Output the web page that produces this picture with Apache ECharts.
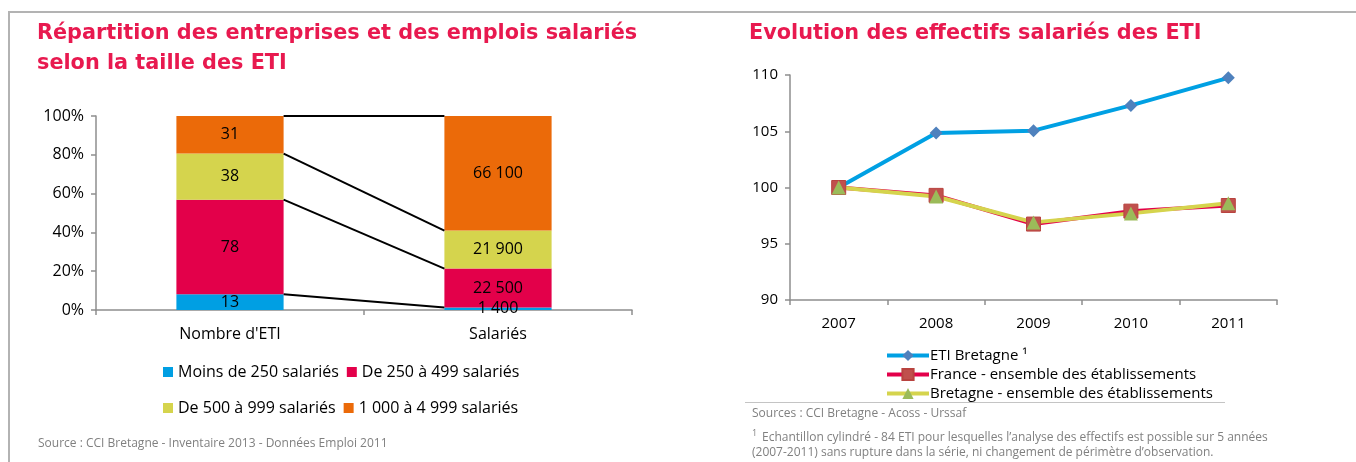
<!DOCTYPE html>
<html>
<head>
<meta charset="utf-8">
<script src="https://cdn.jsdelivr.net/npm/echarts@6/dist/echarts.min.js"></script>
<style>
html, body { margin: 0; padding: 0; background: #fff; }
#main { width: 1356px; height: 462px; }
</style>
</head>
<body>
<div id="main"></div>
<script>
// --- données (graphique de gauche) ---
var categories = ["Nombre d'ETI", "Salariés"];
var sizeNames = ['Moins de 250 salariés', 'De 250 à 499 salariés', 'De 500 à 999 salariés', '1 000 à 4 999 salariés'];
var moins250 = [13, 1400];
var de250a499 = [78, 22500];
var de500a999 = [38, 21900];
var de1000a4999 = [31, 66100];
var pctTicks = [0, 20, 40, 60, 80, 100];

// --- données (graphique de droite) ---
var years = ['2007', '2008', '2009', '2010', '2011'];
var etiBretagne = [100, 104.85, 105.05, 107.3, 109.75];
var franceEnsemble = [100, 99.3, 96.75, 97.9, 98.4];
var bretagneEnsemble = [100, 99.2, 96.9, 97.7, 98.6];
var indexTicks = [90, 95, 100, 105, 110];

var sizeColors = ['#009fe3', '#e3004a', '#d5d44d', '#eb6a09'];
var textFont = 'Open Sans';
var titleColor = '#e8194f';

/**
 * parts en % par colonne
 */
var groups = [moins250, de250a499, de500a999, de1000a4999];
var totals = categories.map(function (c, i) {
    var s = 0;
    for (var k = 0; k < groups.length; k++) s += groups[k][i];
    return s;
});
var shares = groups.map(function (g) {
    return g.map(function (v, i) { return v / totals[i] * 100; });
});
// limites cumulées pour les traits de liaison
var connData = [];
var cumL = 0, cumR = 0;
for (var k = 0; k < shares.length; k++) {
    cumL += shares[k][0];
    cumR += shares[k][1];
    connData.push([0, Math.min(cumL, 100), Math.min(cumR, 100)]);
}

function fmtNum(v) {
    return String(v).replace(/\B(?=(\d{3})+(?!\d))/g, ' ');
}

var barSeries = groups.map(function (g, k) {
    return {
        name: sizeNames[k],
        type: 'bar',
        stack: 'taille',
        xAxisIndex: 0,
        yAxisIndex: 0,
        barWidth: '40%',
        data: shares[k],
        itemStyle: { color: sizeColors[k] },
        label: {
            show: true,
            position: 'inside',
            color: '#000',
            fontFamily: textFont,
            fontSize: 16,
            formatter: function (p) { return fmtNum(g[p.dataIndex]); }
        }
    };
});

var axisGray = '#8e8e8e';

var option = {
    animation: false,
    textStyle: { fontFamily: textFont },
    grid: [
        { left: 96, top: 116, width: 536, height: 194 },
        { left: 790, top: 75, width: 487, height: 225 }
    ],
    xAxis: [
        {
            gridIndex: 0,
            type: 'category',
            data: categories,
            axisLine: { lineStyle: { color: axisGray, width: 1.5 } },
            axisTick: { show: true, length: 5, lineStyle: { color: axisGray, width: 1.5 } },
            axisLabel: { color: '#000', fontSize: 16, margin: 16 }
        },
        {
            gridIndex: 1,
            type: 'category',
            data: years,
            axisLine: { lineStyle: { color: axisGray, width: 1.5 } },
            axisTick: { show: true, length: 5, lineStyle: { color: axisGray, width: 1.5 } },
            axisLabel: { color: '#000', fontSize: 15, margin: 16 }
        }
    ],
    yAxis: [
        {
            gridIndex: 0,
            type: 'value',
            min: pctTicks[0],
            max: pctTicks[pctTicks.length - 1],
            interval: 20,
            splitLine: { show: false },
            axisLine: { show: true, lineStyle: { color: axisGray, width: 1.5 } },
            axisTick: { show: true, length: 5, lineStyle: { color: axisGray, width: 1.5 } },
            axisLabel: { color: '#000', fontSize: 16, margin: 12, formatter: '{value}%' }
        },
        {
            gridIndex: 1,
            type: 'value',
            min: indexTicks[0],
            max: indexTicks[indexTicks.length - 1],
            interval: 5,
            splitLine: { show: false },
            axisLine: { show: true, lineStyle: { color: axisGray, width: 1.5 } },
            axisTick: { show: true, length: 5, lineStyle: { color: axisGray, width: 1.5 } },
            axisLabel: { color: '#000', fontSize: 15, margin: 12 }
        }
    ],
    legend: [
        {
            data: sizeNames.slice(0, 2),
            left: 158, top: 359,
            icon: 'rect', itemWidth: 10, itemHeight: 10, itemGap: 8,
            textStyle: { color: '#000', fontSize: 16, fontFamily: textFont }
        },
        {
            data: sizeNames.slice(2, 4),
            left: 158, top: 395,
            icon: 'rect', itemWidth: 10, itemHeight: 10, itemGap: 8,
            textStyle: { color: '#000', fontSize: 16, fontFamily: textFont }
        },
        {
            data: ['ETI Bretagne ¹', 'France - ensemble des établissements', 'Bretagne - ensemble des établissements'],
            orient: 'vertical',
            left: 880, top: 343,
            itemWidth: 42, itemHeight: 14, itemGap: 4,
            lineStyle: { width: 4 },
            textStyle: { color: '#000', fontSize: 15, fontFamily: textFont, padding: [0, 0, 0, -4] }
        }
    ],
    series: barSeries.concat([
        {
            type: 'custom',
            xAxisIndex: 0,
            yAxisIndex: 0,
            silent: true,
            clip: false,
            z: 5,
            encode: { x: 0, y: [1, 2] },
            data: connData,
            renderItem: function (params, api) {
                var a = api.coord([0, api.value(1)]);
                var b = api.coord([1, api.value(2)]);
                var half = api.size([1, 0])[0] * 0.2;
                return {
                    type: 'line',
                    shape: { x1: a[0] + half, y1: a[1], x2: b[0] - half, y2: b[1] },
                    style: { stroke: '#000', lineWidth: 2 }
                };
            }
        },
        {
            name: 'ETI Bretagne ¹',
            type: 'line',
            xAxisIndex: 1,
            yAxisIndex: 1,
            data: etiBretagne,
            symbol: 'diamond',
            symbolSize: 13,
            lineStyle: { color: '#00a0e3', width: 4 },
            itemStyle: { color: '#4f81bd' }
        },
        {
            name: 'France - ensemble des établissements',
            type: 'line',
            xAxisIndex: 1,
            yAxisIndex: 1,
            data: franceEnsemble,
            symbol: 'rect',
            symbolSize: 14,
            lineStyle: { color: '#e3004a', width: 4 },
            itemStyle: { color: '#c0504d', borderColor: '#b8433f', borderWidth: 1 }
        },
        {
            name: 'Bretagne - ensemble des établissements',
            type: 'line',
            xAxisIndex: 1,
            yAxisIndex: 1,
            data: bretagneEnsemble,
            symbol: 'triangle',
            symbolSize: 14,
            lineStyle: { color: '#d5d44d', width: 4 },
            itemStyle: { color: '#9bbb59' }
        }
    ]),
    graphic: [
        // cadre
        {
            type: 'polyline',
            shape: { points: [[9, 462], [9, 12], [1356, 12]] },
            style: { stroke: '#b3b3b3', lineWidth: 2, fill: null },
            silent: true
        },
        {
            type: 'text', left: 37, top: 19,
            style: {
                text: 'Répartition des entreprises et des emplois salariés\nselon la taille des ETI',
                font: 'bold 20.8px "DejaVu Sans"', fill: titleColor, lineHeight: 30
            }
        },
        {
            type: 'text', left: 749, top: 19,
            style: {
                text: 'Evolution des effectifs salariés des ETI',
                font: 'bold 20.8px "DejaVu Sans"', fill: titleColor, lineHeight: 30
            }
        },
        {
            type: 'text', left: 38, top: 438,
            style: {
                text: 'Source : CCI Bretagne - Inventaire 2013 - Données Emploi 2011',
                font: '12px "Open Sans"', fill: '#808080'
            }
        },
        {
            type: 'line',
            shape: { x1: 745, y1: 402.5, x2: 1225, y2: 402.5 },
            style: { stroke: '#c4c4c4', lineWidth: 1 },
            silent: true
        },
        {
            type: 'text', left: 752, top: 408,
            style: {
                text: 'Sources : CCI Bretagne - Acoss - Urssaf',
                font: '12px "Open Sans"', fill: '#808080'
            }
        },
        {
            type: 'text', left: 752, top: 429,
            style: { text: '1', font: '9px "Open Sans"', fill: '#808080' }
        },
        {
            type: 'text', left: 762, top: 432,
            style: {
                text: 'Echantillon cylindré - 84 ETI pour lesquelles l\u2019analyse des effectifs est possible sur 5 années',
                font: '12px "Open Sans"', fill: '#808080'
            }
        },
        {
            type: 'text', left: 752, top: 447,
            style: {
                text: '(2007-2011) sans rupture dans la série, ni changement de périmètre d\u2019observation.',
                font: '12px "Open Sans"', fill: '#808080'
            }
        }
    ]
};

var chart = echarts.init(document.getElementById('main'));
chart.setOption(option);
</script>
</body>
</html>
